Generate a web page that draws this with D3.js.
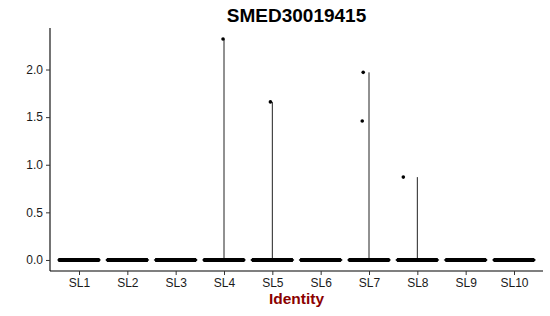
<!DOCTYPE html>
<html><head><meta charset="utf-8">
<script src="https://cdn.jsdelivr.net/npm/d3@7"></script>
<style>body{margin:0;background:#fff}svg{display:block}</style>
</head><body>
<svg id="c" width="550" height="316"></svg>
<script>
const title = "SMED30019415";
const xTitle = "Identity";
const categories = ["SL1","SL2","SL3","SL4","SL5","SL6","SL7","SL8","SL9","SL10"];
const zeroCounts = [420, 400, 380, 360, 340, 320, 300, 280, 260, 240];
const exprCluster = ["SL4","SL5","SL7","SL7","SL8"];
const exprValues = [2.32, 1.66, 1.97, 1.46, 0.87];
const exprJitter = [-0.02, -0.04, -0.12, -0.14, -0.29];
const yTicks = [0, 0.5, 1.0, 1.5, 2.0];

const svg = d3.select("#c");
const mLeft = 50, mRight = 543, mTop = 28, mBottom = 271;
const maxV = d3.max(exprValues);
const pad = maxV * 0.05;
const y = d3.scaleLinear().domain([-pad, maxV + pad]).range([mBottom, mTop]);
const x = d3.scalePoint().domain(categories).range([mLeft, mRight]).padding(0.6);
const bw = x.step();

// violins (flat at zero with thin tails)
categories.forEach(c => {
  const vals = exprValues.filter((v, i) => exprCluster[i] === c);
  const cx = x(c);
  svg.append("line").attr("x1", cx - bw*0.45).attr("x2", cx + bw*0.45)
    .attr("y1", y(0)).attr("y2", y(0)).attr("stroke", "#000").attr("stroke-width", 1);
  if (vals.length) {
    svg.append("line").attr("x1", cx).attr("x2", cx)
      .attr("y1", y(0)).attr("y2", y(d3.max(vals))).attr("stroke", "#222").attr("stroke-width", 1);
  }
});

// zero points (deterministic jitter)
const pts = [];
categories.forEach((c, ci) => {
  for (let i = 0; i < zeroCounts[ci]; i++) {
    const j = ((i * 0.6180339887 + ci * 0.37) % 1 - 0.5) * 0.8;
    pts.push({c, v: 0, j});
  }
});
exprValues.forEach((v, i) => pts.push({c: exprCluster[i], v, j: exprJitter[i]}));
svg.append("g").selectAll("circle").data(pts).join("circle")
  .attr("cx", d => x(d.c) + d.j * bw).attr("cy", d => y(d.v)).attr("r", 1.8).attr("fill", "#000");

// axes
const font = "'Liberation Sans', Arial, sans-serif";
const ga = svg.append("g").attr("transform", `translate(${mLeft},0)`)
  .call(d3.axisLeft(y).tickValues(yTicks).tickFormat(d3.format(".1f")).tickSize(4).tickPadding(3));
ga.select(".domain").attr("d", `M0,${mTop}V${mBottom}`).attr("stroke", "#000").attr("stroke-width", 1.1);
ga.selectAll(".tick line").attr("stroke", "#333");
ga.selectAll("text").attr("font-family", font).attr("font-size", 12).attr("fill", "#1a1a1a");

const gb = svg.append("g").attr("transform", `translate(0,${mBottom})`)
  .call(d3.axisBottom(x).tickSize(4).tickPadding(3));
gb.select(".domain").attr("d", `M${mLeft},0H${mRight}`).attr("stroke", "#000").attr("stroke-width", 1.1);
gb.selectAll(".tick line").attr("stroke", "#333");
gb.selectAll("text").attr("font-family", font).attr("font-size", 12).attr("fill", "#1a1a1a");

svg.append("text").attr("x", (mLeft + mRight) / 2).attr("y", 22).attr("text-anchor", "middle")
  .attr("font-family", font).attr("font-weight", "bold").attr("font-size", 19).attr("fill", "#000").text(title);
svg.append("text").attr("x", (mLeft + mRight) / 2).attr("y", 304).attr("text-anchor", "middle")
  .attr("font-family", font).attr("font-weight", "bold").attr("font-size", 15.5).attr("fill", "#8B0000").text(xTitle);
</script>
</body></html>
